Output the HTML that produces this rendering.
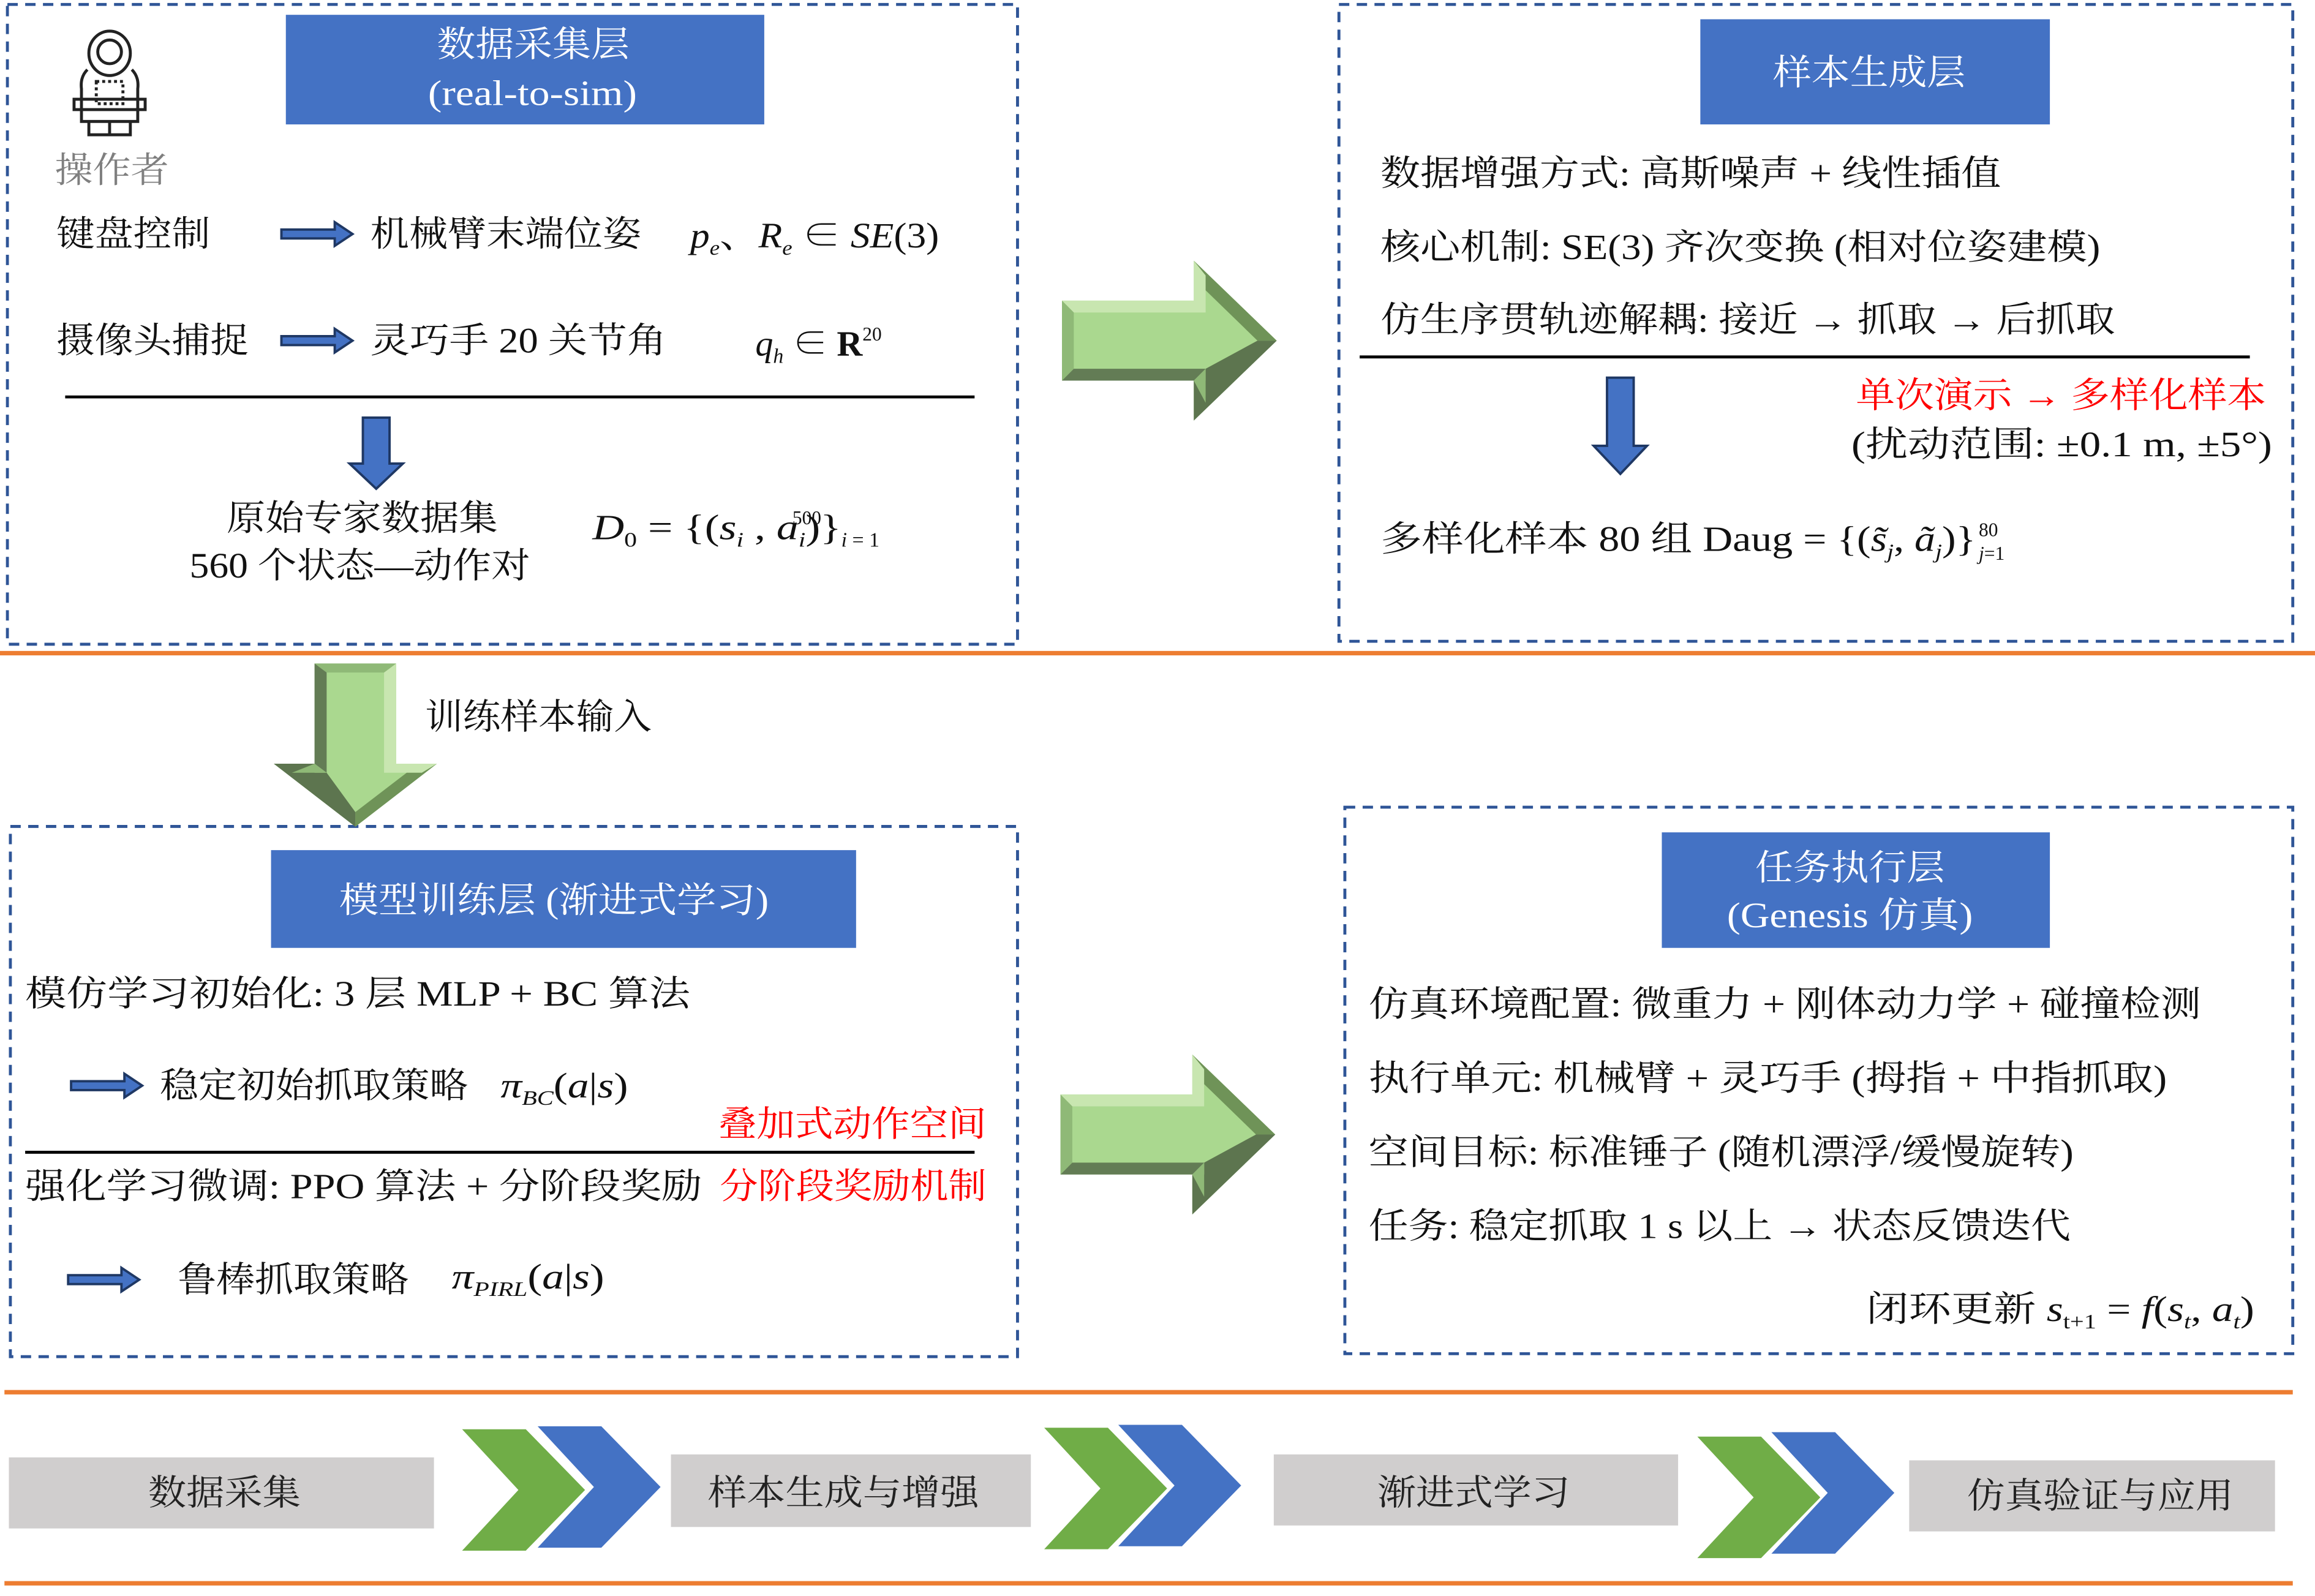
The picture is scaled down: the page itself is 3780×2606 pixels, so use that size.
<!DOCTYPE html>
<html><head><meta charset="utf-8"><style>
html,body{margin:0;padding:0;background:#fff;}
svg{display:block;}
text{font-family:"Liberation Serif","Noto Serif CJK SC",serif;}
</style></head><body>
<svg width="3780" height="2606" viewBox="0 0 1563 1077.6" preserveAspectRatio="none" xmlns="http://www.w3.org/2000/svg">
<defs>
<g id="ga">
 <polygon points="0,27 89,27 89,0 145,54 89,108 89,81 0,81" fill="#aad88f"/>
 <polygon points="0,27 89,27 89,0 97,10 97,35 8,35" fill="#c8e6b0"/>
 <polygon points="89,0 145,54 132,54 97,20 97,10" fill="#6f9358"/>
 <polygon points="0,27 8,35 8,73 0,81" fill="#8fb977"/>
 <polygon points="0,81 8,73 97,73 89,81" fill="#637c55"/>
 <polygon points="97,73 132,54 145,54 89,108 89,81 97,81" fill="#5d754f"/>
 <polygon points="89,81 97,73 97,96" fill="#8fb977"/>
</g>
<g id="ba">
 <polygon points="0,5 36,5 36,0 48,8 36,16 36,11 0,11" fill="#4472c4" stroke="#1f3864" stroke-width="1.6"/>
</g>
<g id="ch">
 <polygon points="0,0 43,0 83,41 43,82 0,82 38,41"/>
</g>
</defs>

<g fill="none" stroke="#2f5597" stroke-width="2" stroke-dasharray="7,5">
 <rect x="5" y="3" width="682" height="432"/>
 <rect x="904" y="3" width="644" height="430"/>
 <rect x="7" y="558" width="680" height="358"/>
 <rect x="908" y="545" width="640" height="369"/>
</g>

<g stroke="#ed7d31" stroke-width="3">
 <line x1="0" y1="441" x2="1563" y2="441"/>
 <line x1="3" y1="940" x2="1548" y2="940"/>
 <line x1="3" y1="1069" x2="1548" y2="1069"/>
</g>

<g fill="#4472c4">
 <rect x="193" y="10" width="323" height="74"/>
 <rect x="1148" y="13" width="236" height="71"/>
 <rect x="183" y="574" width="395" height="66"/>
 <rect x="1122" y="562" width="262" height="78"/>
</g>
<g fill="#fff" font-size="24" lengthAdjust="spacingAndGlyphs">
 <text x="295" y="38" textLength="130" lengthAdjust="spacingAndGlyphs">数据采集层</text>
 <text x="289" y="71" textLength="141" lengthAdjust="spacingAndGlyphs">(real-to-sim)</text>
 <text x="1197" y="57" textLength="130" lengthAdjust="spacingAndGlyphs">样本生成层</text>
 <text x="229" y="616" textLength="290" lengthAdjust="spacingAndGlyphs">模型训练层 (渐进式学习)</text>
 <text x="1185" y="594" textLength="128" lengthAdjust="spacingAndGlyphs">任务执行层</text>
 <text x="1166" y="626" textLength="166" lengthAdjust="spacingAndGlyphs">(Genesis 仿真)</text>
</g>

<g fill="none" stroke="#222" stroke-width="2">
 <ellipse cx="74" cy="36" rx="14" ry="15"/>
 <ellipse cx="74" cy="35" rx="8" ry="8"/>
 <path d="M59,47 Q54,52 55,60 L55,82 L93,82 L93,60 Q94,52 89,47"/>
 <rect x="50" y="67" width="48" height="7"/>
 <path d="M60,82 L60,91 L88,91 L88,82 M74,82 L74,91"/>
 <rect x="65" y="55" width="18" height="15" stroke-dasharray="2,2"/>
</g>
<text x="37" y="123" font-size="24" fill="#7f7f7f" textLength="77" lengthAdjust="spacingAndGlyphs">操作者</text>

<g font-size="24" fill="#111">
 <text x="38" y="166" textLength="104" lengthAdjust="spacingAndGlyphs">键盘控制</text>
 <text x="250" y="166" textLength="183" lengthAdjust="spacingAndGlyphs">机械臂末端位姿</text>
 <text x="466" y="167" font-style="italic" textLength="168" lengthAdjust="spacingAndGlyphs">p<tspan font-size="14" dy="5">e</tspan><tspan dy="-5" font-style="normal">、</tspan>R<tspan font-size="14" dy="5">e</tspan><tspan dy="-5" font-style="normal"> ∈ </tspan>SE<tspan font-style="normal">(3)</tspan></text>
 <text x="38" y="238" textLength="130" lengthAdjust="spacingAndGlyphs">摄像头捕捉</text>
 <text x="250" y="238" textLength="200" lengthAdjust="spacingAndGlyphs">灵巧手 20 关节角</text>
 <text x="510" y="240" font-style="italic">q<tspan font-size="14" dy="5">h</tspan><tspan dy="-5" font-style="normal"> ∈ </tspan><tspan font-weight="bold" font-style="normal">R</tspan><tspan font-size="13" dy="-10" font-style="normal">20</tspan></text>
 <text x="153" y="358" textLength="183" lengthAdjust="spacingAndGlyphs">原始专家数据集</text>
 <text x="128" y="390" textLength="230" lengthAdjust="spacingAndGlyphs">560 个状态—动作对</text>
 <text x="400" y="364" font-style="italic" textLength="168" lengthAdjust="spacingAndGlyphs">D<tspan font-size="14" dy="5" font-style="normal">0</tspan><tspan dy="-5" font-style="normal"> = {(</tspan>s<tspan font-size="14" dy="5">i</tspan><tspan dy="-5" font-style="normal"> , </tspan>a<tspan font-size="14" dy="5">i</tspan><tspan dy="-5" font-style="normal">)}</tspan></text>
 <text x="535" y="354" font-size="13">500</text>
 <text x="568" y="369" font-size="14" font-style="italic">i<tspan font-style="normal"> = 1</tspan></text>
</g>
<use href="#ba" transform="translate(190,150)"/>
<use href="#ba" transform="translate(190,222)"/>
<line x1="44" y1="268" x2="658" y2="268" stroke="#000" stroke-width="2"/>
<polygon points="245,282 263,282 263,313 272,313 254,330 236,313 245,313" fill="#4472c4" stroke="#1f3864" stroke-width="1.6"/>

<g font-size="24" fill="#111">
 <text x="932" y="125" textLength="419" lengthAdjust="spacingAndGlyphs">数据增强方式: 高斯噪声 + 线性插值</text>
 <text x="932" y="175" textLength="486" lengthAdjust="spacingAndGlyphs">核心机制: SE(3) 齐次变换 (相对位姿建模)</text>
 <text x="932" y="224" textLength="496" lengthAdjust="spacingAndGlyphs">仿生序贯轨迹解耦: 接近 → 抓取 → 后抓取</text>
 <text x="1253" y="275" fill="#ff0000" textLength="277" lengthAdjust="spacingAndGlyphs">单次演示 → 多样化样本</text>
 <text x="1250" y="308" textLength="284" lengthAdjust="spacingAndGlyphs">(扰动范围: ±0.1 m, ±5°)</text>
 <text x="932" y="372" textLength="402" lengthAdjust="spacingAndGlyphs">多样化样本 80 组 Daug = {(<tspan font-style="italic">s̃<tspan font-size="14" dy="5">j</tspan></tspan><tspan dy="-5">, </tspan><tspan font-style="italic">ã<tspan font-size="14" dy="5">j</tspan></tspan><tspan dy="-5">)}</tspan></text>
 <text x="1336" y="362" font-size="13">80</text>
 <text x="1336" y="378" font-size="13" font-style="italic">j<tspan font-style="normal">=1</tspan></text>
</g>
<line x1="918" y1="241" x2="1519" y2="241" stroke="#000" stroke-width="2"/>
<polygon points="1085,255 1103,255 1103,301 1112,301 1094,320 1076,301 1085,301" fill="#4472c4" stroke="#1f3864" stroke-width="1.6"/>

<use href="#ga" transform="translate(717,176)"/>
<use href="#ga" transform="translate(716,712)"/>
<use href="#ga" transform="translate(295,448) rotate(90) scale(0.76,1.02)"/>
<text x="287" y="492" font-size="24" fill="#111" textLength="153" lengthAdjust="spacingAndGlyphs">训练样本输入</text>

<g font-size="24" fill="#111">
 <text x="17" y="679" textLength="449" lengthAdjust="spacingAndGlyphs">模仿学习初始化: 3 层 MLP + BC 算法</text>
 <text x="108" y="741" textLength="208" lengthAdjust="spacingAndGlyphs">稳定初始抓取策略</text>
 <text x="338" y="741" font-style="italic" textLength="86" lengthAdjust="spacingAndGlyphs">π<tspan font-size="14" dy="5">BC</tspan><tspan dy="-5" font-style="normal">(</tspan>a<tspan font-style="normal">|</tspan>s<tspan font-style="normal">)</tspan></text>
 <text x="485" y="767" fill="#ff0000" textLength="181" lengthAdjust="spacingAndGlyphs">叠加式动作空间</text>
 <text x="17" y="809" textLength="457" lengthAdjust="spacingAndGlyphs">强化学习微调: PPO 算法 + 分阶段奖励</text>
 <text x="486" y="809" fill="#ff0000" textLength="180" lengthAdjust="spacingAndGlyphs">分阶段奖励机制</text>
 <text x="120" y="872" textLength="156" lengthAdjust="spacingAndGlyphs">鲁棒抓取策略</text>
 <text x="305" y="870" font-style="italic" textLength="103" lengthAdjust="spacingAndGlyphs">π<tspan font-size="14" dy="5">PIRL</tspan><tspan dy="-5" font-style="normal">(</tspan>a<tspan font-style="normal">|</tspan>s<tspan font-style="normal">)</tspan></text>
</g>
<use href="#ba" transform="translate(48,725)"/>
<use href="#ba" transform="translate(46,856)"/>
<line x1="17" y1="778" x2="658" y2="778" stroke="#000" stroke-width="2"/>

<g font-size="24" fill="#111">
 <text x="924" y="686" textLength="562" lengthAdjust="spacingAndGlyphs">仿真环境配置: 微重力 + 刚体动力学 + 碰撞检测</text>
 <text x="924" y="736" textLength="539" lengthAdjust="spacingAndGlyphs">执行单元: 机械臂 + 灵巧手 (拇指 + 中指抓取)</text>
 <text x="924" y="786" textLength="476" lengthAdjust="spacingAndGlyphs">空间目标: 标准锤子 (随机漂浮/缓慢旋转)</text>
 <text x="924" y="836" textLength="474" lengthAdjust="spacingAndGlyphs">任务: 稳定抓取 1 s 以上 → 状态反馈迭代</text>
 <text x="1260" y="892" textLength="262" lengthAdjust="spacingAndGlyphs">闭环更新 <tspan font-style="italic">s<tspan font-size="14" dy="5" font-style="normal">t+1</tspan><tspan dy="-5" font-style="normal"> = </tspan>f<tspan font-style="normal">(</tspan>s<tspan font-size="14" dy="5">t</tspan><tspan dy="-5" font-style="normal">, </tspan>a<tspan font-size="14" dy="5">t</tspan><tspan dy="-5" font-style="normal">)</tspan></tspan></text>
</g>

<g fill="#d0cece">
 <rect x="6" y="984" width="287" height="48"/>
 <rect x="453" y="982" width="243" height="49"/>
 <rect x="860" y="982" width="273" height="48"/>
 <rect x="1289" y="986" width="247" height="48"/>
</g>
<g font-size="24" fill="#222">
 <text x="100" y="1016" textLength="103" lengthAdjust="spacingAndGlyphs">数据采集</text>
 <text x="478" y="1016" textLength="183" lengthAdjust="spacingAndGlyphs">样本生成与增强</text>
 <text x="930" y="1016" textLength="130" lengthAdjust="spacingAndGlyphs">渐进式学习</text>
 <text x="1328" y="1018" textLength="180" lengthAdjust="spacingAndGlyphs">仿真验证与应用</text>
</g>
<use href="#ch" transform="translate(312,965)" fill="#70ad47"/>
<use href="#ch" transform="translate(363,963)" fill="#4472c4"/>
<use href="#ch" transform="translate(705,964)" fill="#70ad47"/>
<use href="#ch" transform="translate(755,962)" fill="#4472c4"/>
<use href="#ch" transform="translate(1146,970)" fill="#70ad47"/>
<use href="#ch" transform="translate(1196,967)" fill="#4472c4"/>
</svg>
</body></html>
